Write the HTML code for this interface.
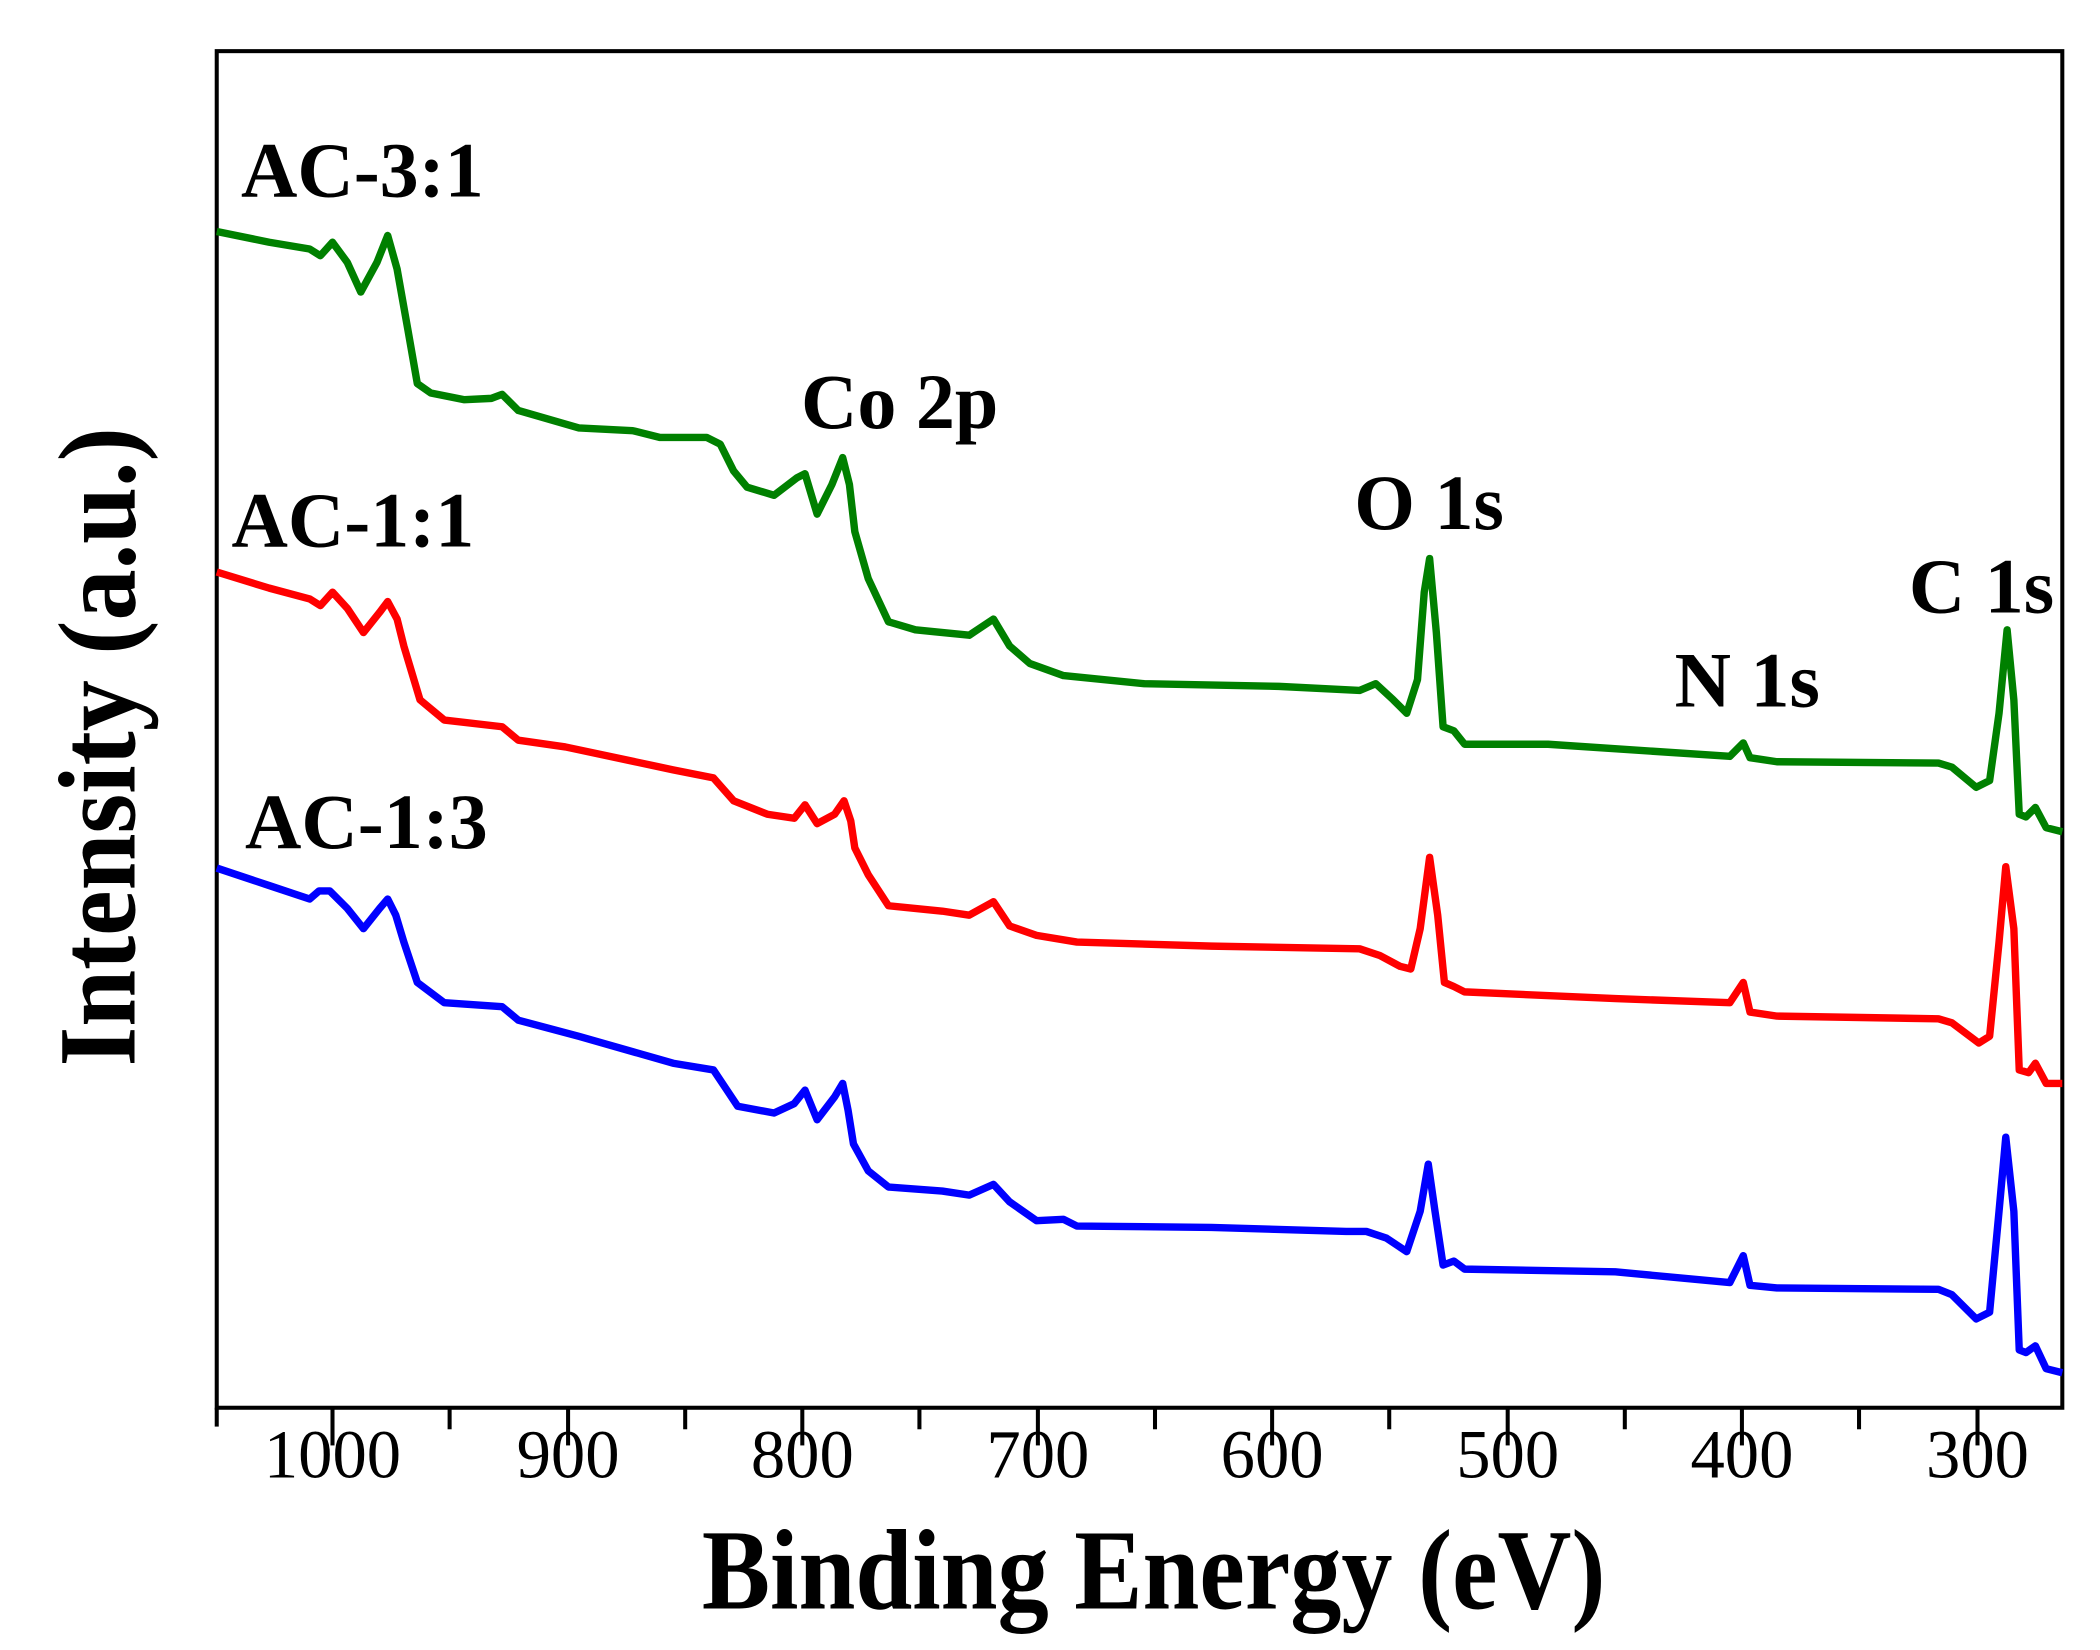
<!DOCTYPE html>
<html><head><meta charset="utf-8"><style>
html,body{margin:0;padding:0;background:#fff;}
svg{display:block;}
text{font-family:"Liberation Serif",serif;fill:#000;}
</style></head><body>
<svg width="2100" height="1650" viewBox="0 0 1560 1226" preserveAspectRatio="none" xmlns="http://www.w3.org/2000/svg">
<rect x="161" y="38" width="1371" height="1008" fill="none" stroke="#000" stroke-width="3"/>
<g stroke="#000" stroke-width="3">
<line x1="161" y1="1046" x2="161" y2="1060"/>
<line x1="247" y1="1046" x2="247" y2="1074"/>
<line x1="334" y1="1046" x2="334" y2="1062"/>
<line x1="422" y1="1046" x2="422" y2="1074"/>
<line x1="509" y1="1046" x2="509" y2="1062"/>
<line x1="596" y1="1046" x2="596" y2="1074"/>
<line x1="683" y1="1046" x2="683" y2="1062"/>
<line x1="771" y1="1046" x2="771" y2="1074"/>
<line x1="858" y1="1046" x2="858" y2="1062"/>
<line x1="945" y1="1046" x2="945" y2="1074"/>
<line x1="1032" y1="1046" x2="1032" y2="1062"/>
<line x1="1120" y1="1046" x2="1120" y2="1074"/>
<line x1="1207" y1="1046" x2="1207" y2="1062"/>
<line x1="1294" y1="1046" x2="1294" y2="1074"/>
<line x1="1381" y1="1046" x2="1381" y2="1062"/>
<line x1="1469" y1="1046" x2="1469" y2="1074"/>
</g>
<g font-size="51" text-anchor="middle">
<text x="247" y="1098">1000</text><text x="422" y="1098">900</text><text x="596" y="1098">800</text>
<text x="771" y="1098">700</text><text x="945" y="1098">600</text><text x="1120" y="1098">500</text>
<text x="1294" y="1098">400</text><text x="1469" y="1098">300</text>
</g>
<text transform="translate(857,1195) scale(1,1.12)" font-size="76" font-weight="bold" text-anchor="middle">Binding Energy (eV)</text>
<text transform="translate(100,555) rotate(-90) scale(1,1.08)" font-size="76" font-weight="bold" text-anchor="middle">Intensity (a.u.)</text>
<g fill="none" stroke-width="5.5" stroke-linejoin="round">
<polyline stroke="#008000" points="161,172 200,180 230,185 238,190 247,180 258,195 268,217 280,195 288,175 295,200 303,245 310,285 320,292 345,297 365,296 373,293 385,305 430,318 470,320 490,325 525,325 535,330 545,350 555,362 575,368 592,355 598,352 607,382 618,360 626,340 631,360 635,395 645,430 660,462 680,468 720,472 738,460 750,480 765,493 790,502 850,508 950,510 1010,513 1022,508 1035,520 1045,530 1053,505 1058,440 1062,415 1067,470 1072,540 1080,543 1088,553 1150,553 1285,562 1295,552 1300,563 1320,566 1440,567 1450,570 1468,585 1478,580 1485,530 1491,468 1496,520 1500,605 1505,607 1512,600 1520,615 1532,618"/>
<polyline stroke="#ff0000" points="161,425 200,437 230,445 238,450 247,440 258,452 270,470 282,455 288,447 295,460 300,480 312,520 330,535 373,540 385,550 420,555 500,572 530,578 545,595 570,605 590,608 598,598 607,612 620,605 627,595 632,610 635,630 645,650 660,673 700,677 720,680 738,670 750,688 770,695 800,700 900,703 1010,705 1025,710 1040,718 1048,720 1055,690 1062,637 1068,680 1073,730 1080,733 1088,737 1200,742 1285,745 1295,730 1300,752 1320,755 1440,757 1450,760 1470,775 1478,770 1485,700 1490,644 1496,690 1500,795 1507,797 1512,790 1520,805 1532,805"/>
<polyline stroke="#0000ff" points="161,645 200,658 230,668 237,662 245,662 258,675 270,690 282,675 288,668 294,680 300,700 310,730 330,745 373,748 385,758 430,770 500,790 530,795 540,810 548,822 575,827 590,820 598,810 607,832 620,815 626,805 630,825 634,850 645,870 660,882 700,885 720,888 738,880 750,893 770,907 790,906 800,911 900,912 1000,915 1015,915 1030,920 1045,930 1055,900 1061,865 1066,900 1072,940 1080,937 1088,943 1200,945 1285,953 1295,933 1300,955 1320,957 1440,958 1450,962 1468,980 1478,975 1485,900 1490,845 1496,900 1500,1003 1505,1005 1512,1000 1520,1017 1532,1020"/>
</g>
<g font-size="58" font-weight="bold">
<text x="179" y="146">AC-3:1</text>
<text x="172" y="406">AC-1:1</text>
<text x="182" y="630">AC-1:3</text>
<text x="595" y="318">Co 2p</text>
<text x="1006" y="393">O 1s</text>
<text x="1244" y="525">N 1s</text>
<text x="1418" y="455">C 1s</text>
</g>
</svg>
</body></html>
